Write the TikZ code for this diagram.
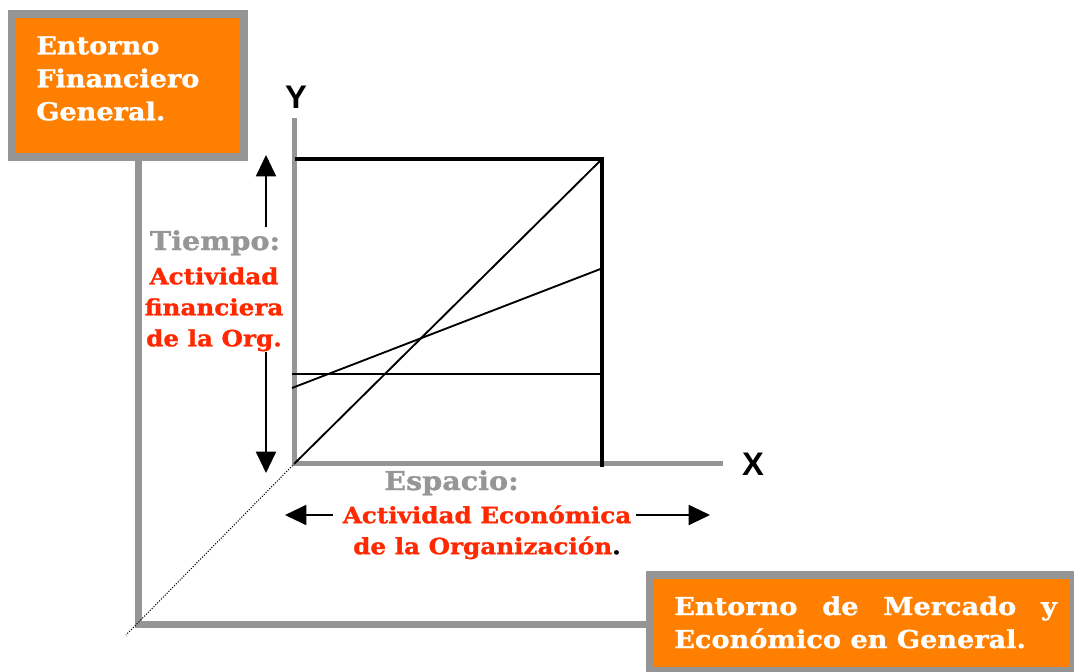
\documentclass[tikz,border=0pt]{standalone}
\usepackage{fontspec}
\setmainfont{DejaVu Serif}
\newfontfamily\bkf[FakeStretch=1.1, BoldFeatures={FakeBold=1.2}]{DejaVu Serif}
\newfontfamily\arf{Liberation Sans}
\usetikzlibrary{arrows.meta}
\definecolor{frgray}{RGB}{149,149,149}
\definecolor{orng}{RGB}{255,128,0}
\definecolor{redt}{RGB}{255,40,0}
\definecolor{labgray}{RGB}{150,150,150}
\tikzset{
  frame/.style={draw=frgray, line width=6pt, fill=orng, inner sep=0pt},
  boxtext/.style={text=white, font=\bkf\bfseries\fontsize{18.5pt}{24.75pt}\selectfont, inner sep=0pt, align=left},
  conn/.style={draw=frgray, line width=5.25pt},
  axis/.style={draw=frgray, line width=3.75pt},
  heavy/.style={draw=black, line width=3pt},
  thinl/.style={draw=black, line width=1.4pt},
  dotl/.style={draw=black, line width=0.8pt, dash pattern=on 0.8pt off 1.2pt},
  arr/.style={draw=black, line width=1.5pt, -{Triangle[width=15pt,length=16pt]}},
  axlab/.style={font=\arf\bfseries\fontsize{24.5pt}{28pt}\selectfont, inner sep=0pt},
  graylab/.style={text=labgray, font=\bkf\bfseries\fontsize{19.5pt}{24pt}\selectfont, inner sep=0pt},
  redlab/.style={text=redt, font=\bkf\bfseries\fontsize{16.8pt}{23.25pt}\selectfont, inner sep=0pt, align=center}
}
\begin{document}
\begin{tikzpicture}[x=0.75pt,y=-0.75pt]
\useasboundingbox (0,0) rectangle (1074,671);
\clip (0,0) rectangle (1074,671);
% frames
\node[frame, minimum width=174pt, minimum height=107.25pt] (fin) at (128,85.5) {};
\node[frame, minimum width=318pt, minimum height=72pt] (mer) at (862,623) {};
\node[boxtext, anchor=north west] (fintext) at (36,36) {Entorno\\Financiero\\General.};
\node[boxtext, anchor=north west] (mertext) at (674,596) {\hbox to 287pt{Entorno\hfill de\hfill Mercado\hfill y}\\Económico en General.};
% connector
\coordinate (corner) at (138,624.5);
\draw[conn] (fin.south -| corner) -- (corner) -- (mer.west |- corner);
% axes
\coordinate (O) at (294.5,463.5);
\coordinate (ytop) at (294.5,118);
\coordinate (xend) at (723,463.5);
\draw[axis] (ytop) -- (O) -- (xend);
\node[axlab] (ylab) at (296,97) {Y};
\node[axlab] (xlab) at (753,464) {X};
% rectangle
\coordinate (A) at (294.5,159);
\coordinate (TR) at (602,159);
\coordinate (BR) at (602,467);
\draw[heavy] (A) -- (TR) -- (BR);
% thin lines
\coordinate (s1) at (292,388);
\coordinate (s2) at (603,268);
\coordinate (h1) at (292,374);
\coordinate (h2) at (604,374);
\coordinate (dend) at (126,635);
\draw[thinl] (O) -- (TR);
\draw[thinl] (s1) -- (s2);
\draw[thinl] (h1) -- (h2);
\draw[dotl] (O) -- (dend);
% vertical arrows
\coordinate (va1) at (266,227);
\coordinate (va2) at (266,155);
\coordinate (vb1) at (266,352);
\coordinate (vb2) at (266,473);
\draw[arr] (va1) -- (va2);
\draw[arr] (vb1) -- (vb2);
% horizontal arrows
\coordinate (ha1) at (333,515);
\coordinate (ha2) at (285,515);
\coordinate (hb1) at (636,515);
\coordinate (hb2) at (710,515);
\draw[arr] (ha1) -- (ha2);
\draw[arr] (hb1) -- (hb2);
% labels
\node[graylab, anchor=base] (tiempo) at (215,250) {Tiempo:};
\node[redlab, anchor=north] (actfin) at (214,267) {Actividad\\financiera\\de la Org.};
\node[graylab, anchor=base] (espacio) at (451.5,490) {Espacio:};
\node[redlab, anchor=north] (acteco) at (487,505) {Actividad Económica\\de la Organización{\color{black}.}};
\end{tikzpicture}
\end{document}
